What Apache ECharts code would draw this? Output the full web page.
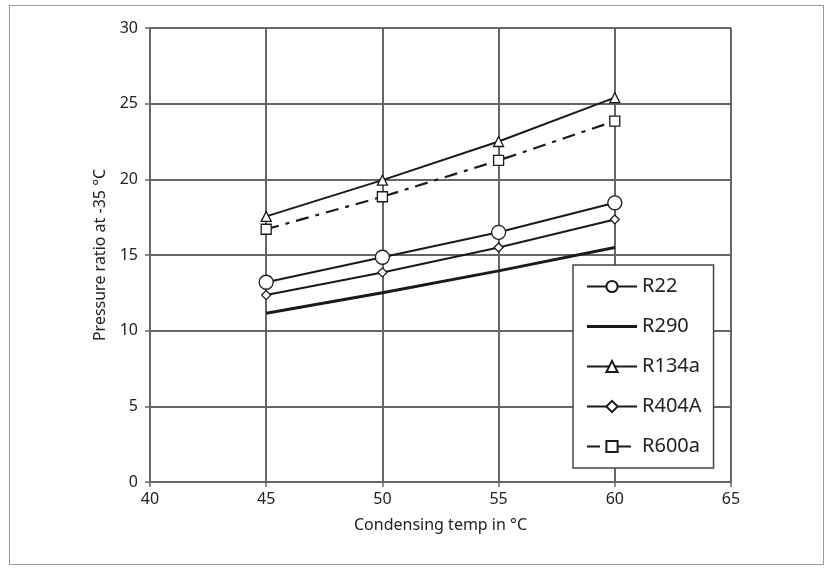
<!DOCTYPE html>
<html>
<head>
<meta charset="utf-8">
<script src="https://cdn.jsdelivr.net/npm/echarts@6/dist/echarts.min.js"></script>
<style>
html,body{margin:0;padding:0;background:#fff;}
#frame{position:absolute;left:9px;top:5px;width:815px;height:560px;border:1.5px solid #999;box-sizing:border-box;}
#chart{position:absolute;left:0;top:0;width:832px;height:568px;}
</style>
</head>
<body>
<div id="frame"></div>
<div id="chart"></div>
<script>
const condTemps = [45, 50, 55, 60];
const r22 = [13.2, 14.85, 16.5, 18.45];
const r290 = [11.15, 12.5, 13.95, 15.5];
const r134a = [17.55, 19.95, 22.5, 25.4];
const r404a = [12.35, 13.85, 15.5, 17.35];
const r600a = [16.7, 18.85, 21.25, 23.85];
const seriesNames = ['R22', 'R290', 'R134a', 'R404A', 'R600a'];
const xTicks = [40, 45, 50, 55, 60, 65];
const yTicks = [0, 5, 10, 15, 20, 25, 30];

const pairs = arr => condTemps.map((t, i) => [t, arr[i]]);
const FONT = 'Noto Sans';
const LINE = '#1a1a1a';
const GRID = '#666';

function mk(name, data, symbol, size, width, type) {
  const noSym = symbol === 'none';
  return {
    name, type: 'line', data: pairs(data),
    symbol, symbolSize: size, showSymbol: !noSym,
    lineStyle: { color: LINE, width: width, type: type || 'solid' },
    itemStyle: noSym ? { color: LINE } : { color: '#fff', borderColor: LINE, borderWidth: 1.3 },
    emphasis: { disabled: true },
    animation: false, z: 3
  };
}

const legendData = seriesNames.map(n => n === 'R290'
  ? { name: n, icon: 'path://M0,0L50,0L50,3L0,3Z', itemStyle: { color: LINE, borderWidth: 0 } }
  : { name: n });

const chart = echarts.init(document.getElementById('chart'));
chart.setOption({
  backgroundColor: 'transparent',
  animation: false,
  grid: { left: 150, right: 101, top: 28, bottom: 86, containLabel: false },
  xAxis: {
    type: 'value', min: xTicks[0], max: xTicks[xTicks.length - 1], interval: 5,
    name: 'Condensing temp in °C', nameLocation: 'middle', nameGap: 35,
    nameTextStyle: { fontFamily: FONT, fontSize: 16, color: '#222' },
    axisLine: { show: true, lineStyle: { color: GRID, width: 2 } },
    axisTick: { show: true, length: 5, lineStyle: { color: GRID, width: 1.5 } },
    axisLabel: { fontFamily: FONT, fontSize: 16, color: '#222', margin: 9 },
    splitLine: { show: true, lineStyle: { color: GRID, width: 2 } }
  },
  yAxis: {
    type: 'value', min: yTicks[0], max: yTicks[yTicks.length - 1], interval: 5,
    name: 'Pressure ratio at -35 °C', nameLocation: 'middle', nameGap: 40,
    nameTextStyle: { fontFamily: FONT, fontSize: 16, color: '#222' },
    axisLine: { show: true, lineStyle: { color: GRID, width: 2 } },
    axisTick: { show: true, length: 5, lineStyle: { color: GRID, width: 1.5 } },
    axisLabel: { fontFamily: FONT, fontSize: 16, color: '#222', margin: 12 },
    splitLine: { show: true, lineStyle: { color: GRID, width: 2 } }
  },
  legend: {
    orient: 'vertical', left: 573, top: 265,
    data: legendData,
    symbolKeepAspect: true,
    backgroundColor: '#fff', borderColor: '#444', borderWidth: 1.5,
    padding: [11, 12, 11, 13],
    itemWidth: 50, itemHeight: 14, itemGap: 19,
    textStyle: { fontFamily: FONT, fontSize: 20, color: '#222', lineHeight: 21 },
    selectedMode: false
  },
  series: [
    mk('R22', r22, 'circle', 14, 2),
    mk('R290', r290, 'none', 0, 3),
    mk('R134a', r134a, 'triangle', 10, 2),
    mk('R404A', r404a, 'diamond', 9, 2),
    mk('R600a', r600a, 'rect', 10, 2.2, [13, 7, 4, 7])
  ]
});
</script>
</body>
</html>
